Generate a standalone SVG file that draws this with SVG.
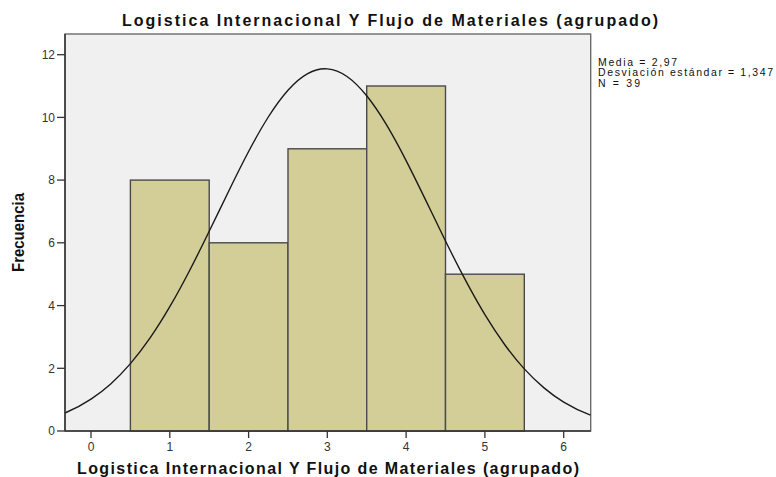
<svg xmlns="http://www.w3.org/2000/svg" width="776" height="477" viewBox="0 0 776 477">
<style>
.title{font-family:"Liberation Sans",Arial,sans-serif;font-weight:bold;font-size:16px;fill:#111}
.tick{font-family:"Liberation Sans",Arial,sans-serif;font-size:12px;fill:#333}
.legend{font-family:"Liberation Sans",Arial,sans-serif;font-size:10.5px;fill:#111}
.bar{fill:#d3ce97;stroke:#4a4a4a;stroke-width:1.4}
.tk{stroke:#333;stroke-width:1.3}
</style>
<rect width="776" height="477" fill="#ffffff"/>
<g id="plot-area">
<rect x="65" y="34" width="525.7" height="397" fill="#f0f0f0" stroke="#6b6b6b" stroke-width="1.4"/>
</g>
<g id="bars">
<rect class="bar" x="130.4" y="180.1" width="78.8" height="250.9"/>
<rect class="bar" x="209.2" y="242.8" width="78.8" height="188.2"/>
<rect class="bar" x="288.0" y="148.8" width="78.7" height="282.2"/>
<rect class="bar" x="366.7" y="86.0" width="78.8" height="345.0"/>
<rect class="bar" x="445.5" y="274.2" width="78.8" height="156.8"/>
</g>
<g id="connectors">
<path fill="none" stroke="#1a1a1a" stroke-width="1.4" d="M65.0,413.0 C73.67,409.40 82.33,404.84 91.0,399.1 C97.57,394.75 104.13,389.79 110.7,383.9 C117.27,378.01 123.83,371.25 130.4,363.6 C136.97,355.95 143.53,347.40 150.1,337.9 C156.67,328.40 163.23,317.95 169.8,306.7 C176.37,295.45 182.93,283.37 189.5,270.7 C196.07,258.03 202.63,244.79 209.2,231.3 C215.77,217.82 222.33,204.17 228.9,190.7 C235.47,177.23 242.03,163.96 248.6,151.5 C255.17,139.05 261.73,127.39 268.3,117.0 C274.87,106.61 281.43,97.56 288.0,90.2 C294.57,82.84 301.13,77.21 307.7,73.6 C314.23,70.01 320.77,68.40 327.3,68.9 C333.87,69.40 340.43,71.94 347.0,76.5 C353.57,81.06 360.13,87.64 366.7,95.8 C373.27,103.96 379.83,113.72 386.4,124.7 C392.97,135.68 399.53,147.80 406.1,160.6 C412.67,173.40 419.23,186.84 425.8,200.4 C432.37,213.96 438.93,227.64 445.5,241.0 C452.07,254.36 458.63,267.33 465.2,279.7 C471.77,292.07 478.33,303.85 484.9,314.7 C491.47,325.55 498.03,335.44 504.6,344.5 C511.17,353.56 517.73,361.68 524.3,368.9 C530.87,376.12 537.43,382.40 544.0,387.9 C550.57,393.40 557.13,398.18 563.7,402.2 C572.63,407.66 581.57,411.86 590.5,415.2"/>
</g>
<g id="axes">
<line x1="65" y1="34" x2="65" y2="431" stroke="#333" stroke-width="1.5"/>
<line x1="65" y1="431" x2="590.7" y2="431" stroke="#333" stroke-width="1.5"/>
<line class="tk" x1="57" y1="431" x2="65" y2="431"/>
<line class="tk" x1="57" y1="368.3" x2="65" y2="368.3"/>
<line class="tk" x1="57" y1="305.6" x2="65" y2="305.6"/>
<line class="tk" x1="57" y1="242.8" x2="65" y2="242.8"/>
<line class="tk" x1="57" y1="180.1" x2="65" y2="180.1"/>
<line class="tk" x1="57" y1="117.4" x2="65" y2="117.4"/>
<line class="tk" x1="57" y1="54.7" x2="65" y2="54.7"/>
<line class="tk" x1="91.0" y1="431" x2="91.0" y2="438"/>
<line class="tk" x1="169.8" y1="431" x2="169.8" y2="438"/>
<line class="tk" x1="248.6" y1="431" x2="248.6" y2="438"/>
<line class="tk" x1="327.3" y1="431" x2="327.3" y2="438"/>
<line class="tk" x1="406.1" y1="431" x2="406.1" y2="438"/>
<line class="tk" x1="484.9" y1="431" x2="484.9" y2="438"/>
<line class="tk" x1="563.7" y1="431" x2="563.7" y2="438"/>
<g class="tick" text-anchor="end">
<text x="55" y="435.3">0</text>
<text x="55" y="372.6">2</text>
<text x="55" y="309.9">4</text>
<text x="55" y="247.1">6</text>
<text x="55" y="184.4">8</text>
<text x="55" y="121.7">10</text>
<text x="55" y="59">12</text>
</g>
<g class="tick" text-anchor="middle">
<text x="91.0" y="450.5">0</text>
<text x="169.8" y="450.5">1</text>
<text x="248.6" y="450.5">2</text>
<text x="327.3" y="450.5">3</text>
<text x="406.1" y="450.5">4</text>
<text x="484.9" y="450.5">5</text>
<text x="563.7" y="450.5">6</text>
</g>
</g>
<g id="labels">
<text class="title" x="122" y="26" textLength="536" lengthAdjust="spacing">Logistica Internacional Y Flujo de Materiales (agrupado)</text>
<text class="title" x="77" y="474" textLength="502" lengthAdjust="spacing">Logistica Internacional Y Flujo de Materiales (agrupado)</text>
<text class="title" transform="translate(24,272) rotate(-90)" x="0" y="0" font-size="15" textLength="79" lengthAdjust="spacingAndGlyphs">Frecuencia</text>
</g>
<g id="legend" class="legend">
<text x="598" y="65.5" textLength="79" lengthAdjust="spacing">Media = 2,97</text>
<text x="598" y="76" textLength="175" lengthAdjust="spacing">Desviación estándar = 1,347</text>
<text x="598" y="86.5" textLength="42" lengthAdjust="spacing">N = 39</text>
</g>
</svg>
